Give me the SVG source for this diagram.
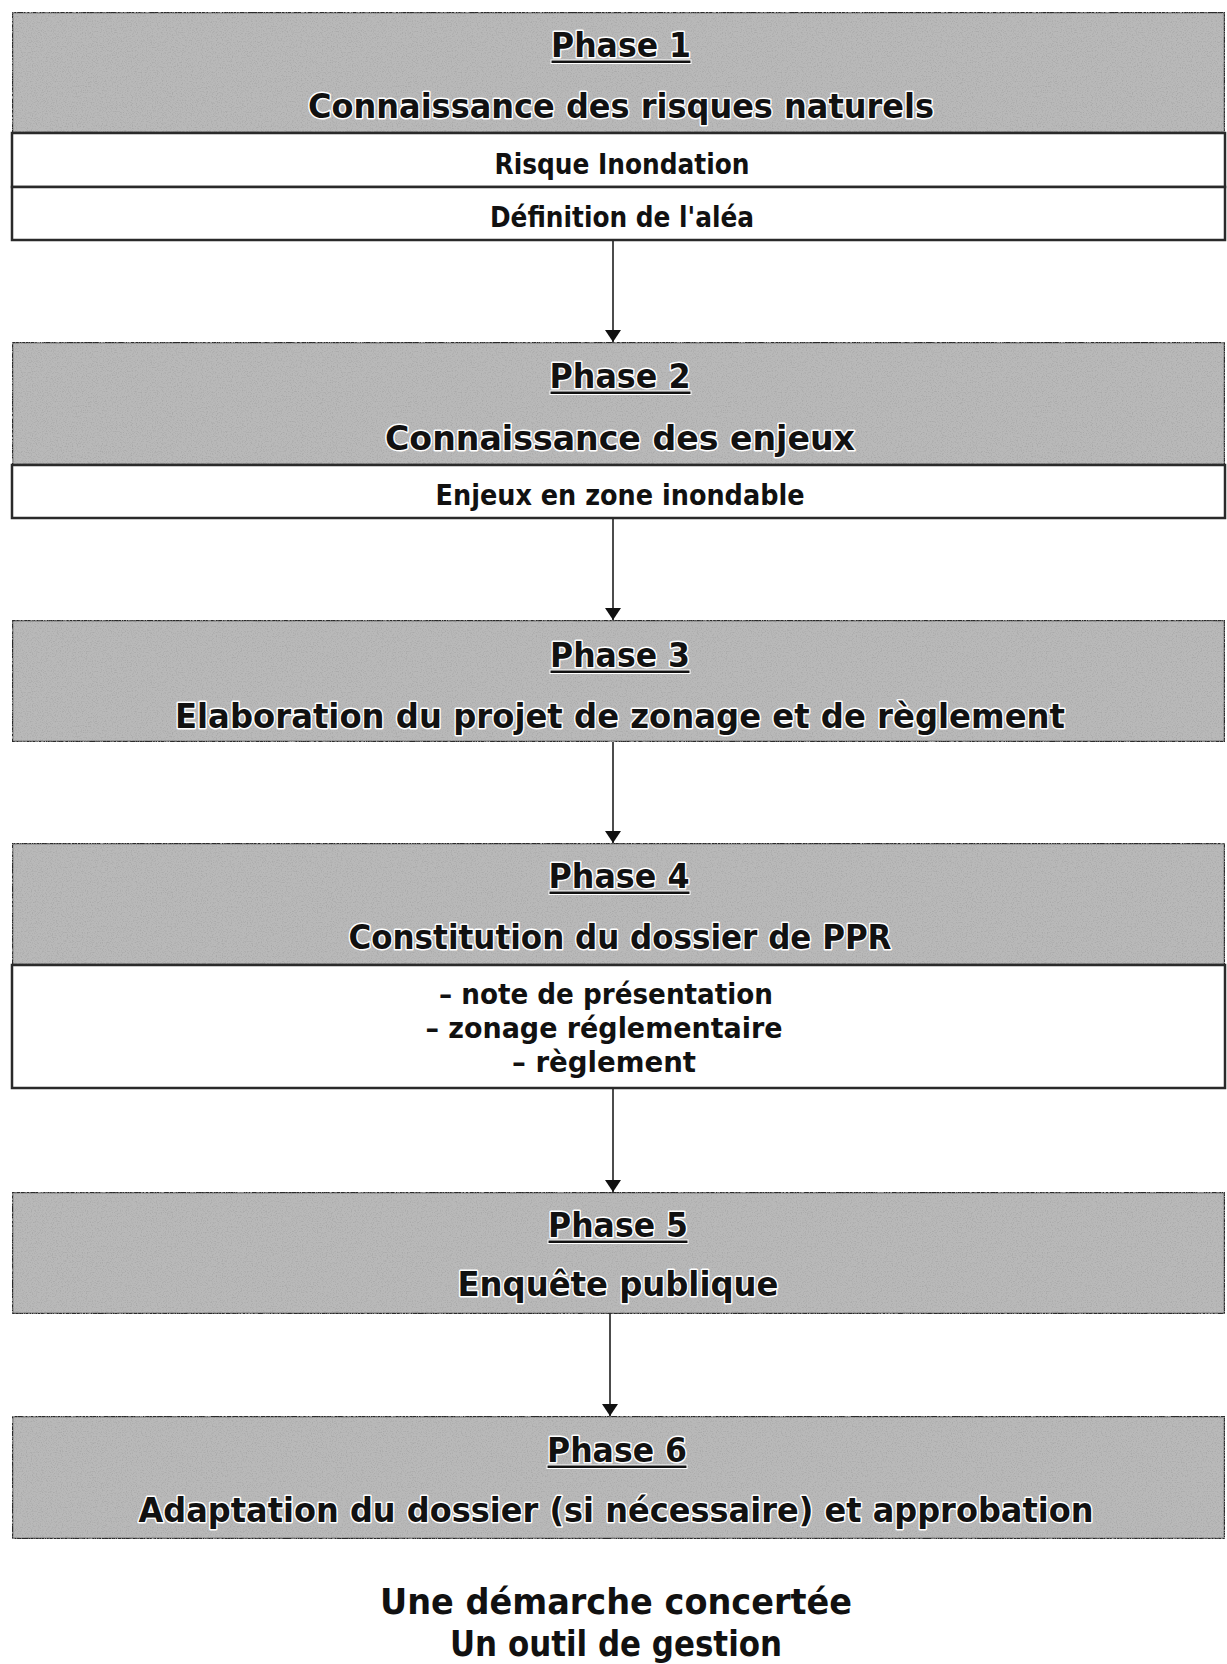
<svg xmlns="http://www.w3.org/2000/svg" width="1227" height="1664" viewBox="0 0 1227 1664">
<style>
.grey{fill:#b9b9b9;stroke:#2a2a2a;stroke-width:2.5}
.white{fill:#fff;stroke:#2a2a2a;stroke-width:2.5}
.t{font-family:"DejaVu Sans","Liberation Sans",sans-serif;font-weight:bold;font-size:34px;fill:#111;stroke:#fff;stroke-width:3;paint-order:stroke;text-anchor:middle;stroke-linejoin:round}
.ul{fill:#111;stroke:#fff;stroke-width:1}
.s{font-family:"DejaVu Sans Condensed","DejaVu Sans","Liberation Sans",sans-serif;font-weight:bold;font-size:28px;fill:#111;text-anchor:middle}
.b{font-family:"DejaVu Sans","Liberation Sans",sans-serif;font-weight:bold;font-size:35px;fill:#111;text-anchor:middle}
.c{stroke:#111;stroke-width:1.5;fill:none;marker-end:url(#ah)}
</style>
<defs>
<filter id="tex" x="0" y="0" width="100%" height="100%">
<feTurbulence type="fractalNoise" baseFrequency="0.8" numOctaves="2" seed="3" result="n"/>
<feColorMatrix in="n" type="matrix" values="0 0 0 0 0.4  0 0 0 0 0.4  0 0 0 0 0.4  0 0 0 -3 1.6" result="d"/>
<feComposite in="d" in2="SourceGraphic" operator="in" result="dd"/>
<feMerge><feMergeNode in="SourceGraphic"/><feMergeNode in="dd"/></feMerge>
</filter>
<marker id="ah" viewBox="0 0 12 16" refX="12" refY="8" markerWidth="12" markerHeight="16" markerUnits="userSpaceOnUse" orient="auto">
<path d="M0,0 L12,8 L0,16 z" fill="#111"/>
</marker>
</defs>

<g id="connectors">
<line class="c" x1="613" y1="240" x2="613" y2="342"/>
<line class="c" x1="613" y1="518" x2="613" y2="620"/>
<line class="c" x1="613" y1="742" x2="613" y2="843"/>
<line class="c" x1="613" y1="1088" x2="613" y2="1192"/>
<line class="c" x1="610" y1="1314" x2="610" y2="1416"/>
</g>

<g id="phase1">
<rect class="grey" filter="url(#tex)" x="12" y="12" width="1213" height="121"/>
<rect class="white" x="12" y="133" width="1213" height="54"/>
<rect class="white" x="12" y="187" width="1213" height="53"/>
<text class="t" x="621" y="57" textLength="140" lengthAdjust="spacingAndGlyphs">Phase 1</text>
<rect class="ul" x="551" y="60" width="140" height="3.5"/>
<text class="t" x="621" y="118" textLength="626" lengthAdjust="spacingAndGlyphs">Connaissance des risques naturels</text>
<text class="s" x="622" y="174" textLength="255" lengthAdjust="spacingAndGlyphs">Risque Inondation</text>
<text class="s" x="622" y="227" textLength="264" lengthAdjust="spacingAndGlyphs">Définition de l'aléa</text>
</g>

<g id="phase2">
<rect class="grey" filter="url(#tex)" x="12" y="342" width="1213" height="123"/>
<rect class="white" x="12" y="465" width="1213" height="53"/>
<text class="t" x="620" y="388" textLength="141" lengthAdjust="spacingAndGlyphs">Phase 2</text>
<rect class="ul" x="550" y="391" width="141" height="3.5"/>
<text class="t" x="620" y="450" textLength="470" lengthAdjust="spacingAndGlyphs">Connaissance des enjeux</text>
<text class="s" x="620" y="505" textLength="369" lengthAdjust="spacingAndGlyphs">Enjeux en zone inondable</text>
</g>

<g id="phase3">
<rect class="grey" filter="url(#tex)" x="12" y="620" width="1213" height="122"/>
<text class="t" x="620" y="667" textLength="140" lengthAdjust="spacingAndGlyphs">Phase 3</text>
<rect class="ul" x="550" y="670" width="140" height="3.5"/>
<text class="t" x="620" y="728" textLength="890" lengthAdjust="spacingAndGlyphs">Elaboration du projet de zonage et de règlement</text>
</g>

<g id="phase4">
<rect class="grey" filter="url(#tex)" x="12" y="843" width="1213" height="122"/>
<rect class="white" x="12" y="965" width="1213" height="123"/>
<text class="t" x="619" y="888" textLength="141" lengthAdjust="spacingAndGlyphs">Phase 4</text>
<rect class="ul" x="549" y="891" width="141" height="3.5"/>
<text class="t" x="620" y="949" textLength="543" lengthAdjust="spacingAndGlyphs">Constitution du dossier de PPR</text>
<text class="s" x="606" y="1004" textLength="334" lengthAdjust="spacingAndGlyphs">–  note de présentation</text>
<text class="s" x="604" y="1038" textLength="357" lengthAdjust="spacingAndGlyphs">–  zonage réglementaire</text>
<text class="s" x="604" y="1072" textLength="184" lengthAdjust="spacingAndGlyphs">–  règlement</text>
</g>

<g id="phase5">
<rect class="grey" filter="url(#tex)" x="12" y="1192" width="1213" height="122"/>
<text class="t" x="618" y="1237" textLength="140" lengthAdjust="spacingAndGlyphs">Phase 5</text>
<rect class="ul" x="548" y="1240" width="140" height="3.5"/>
<text class="t" x="618" y="1296" textLength="321" lengthAdjust="spacingAndGlyphs">Enquête publique</text>
</g>

<g id="phase6">
<rect class="grey" filter="url(#tex)" x="12" y="1416" width="1213" height="123"/>
<text class="t" x="617" y="1462" textLength="140" lengthAdjust="spacingAndGlyphs">Phase 6</text>
<rect class="ul" x="547" y="1465" width="140" height="3.5"/>
<text class="t" x="616" y="1522" textLength="955" lengthAdjust="spacingAndGlyphs">Adaptation du dossier (si nécessaire) et approbation</text>
</g>

<g id="footer">
<text class="b" x="616" y="1614" textLength="472" lengthAdjust="spacingAndGlyphs">Une démarche concertée</text>
<text class="b" x="616" y="1656" textLength="332" lengthAdjust="spacingAndGlyphs">Un outil de gestion</text>
</g>
</svg>
